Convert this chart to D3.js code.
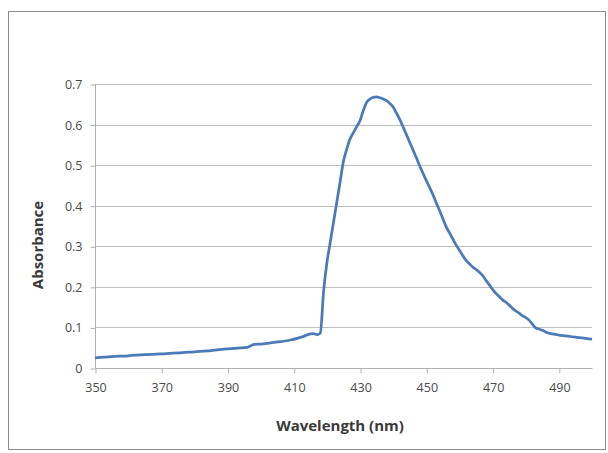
<!DOCTYPE html>
<html>
<head>
<meta charset="utf-8">
<script src="https://cdn.jsdelivr.net/npm/d3@7"></script>
<style>
  body { margin: 0; background: #fff; }
  .tick text { font-family: "Open Sans", sans-serif; font-size: 12.5px; fill: #4a4a4a; }
  .title { font-family: "Open Sans", sans-serif; font-weight: bold; font-size: 15px; fill: #3a3a3a; }
</style>
</head>
<body>
<script>
/* Absorbance spectrum */

const wavelength = [350, 355, 360, 365, 370, 375, 380, 385, 390, 393, 396, 398, 400, 403, 406, 409,
  411, 413, 415, 416, 417, 418, 419, 420, 421, 422, 423, 424, 425, 426, 427, 428, 429, 430,
  431, 432, 433, 434, 435, 436, 437, 438, 439, 440, 441, 442, 443, 444, 445, 446, 447, 448,
  449, 450, 451, 452, 453, 454, 455, 456, 457, 458, 459, 460, 461, 462, 463, 464, 465, 466,
  467, 468, 469, 470, 471, 472, 473, 474, 475, 476, 477, 478, 479, 480, 481, 482, 483, 484,
  485, 486, 487, 488, 489, 490, 492, 494, 496, 498, 500];

const absorbance = [0.025, 0.028, 0.030, 0.033, 0.035, 0.037, 0.040, 0.043, 0.047, 0.049, 0.051, 0.058, 0.059, 0.062, 0.065, 0.069,
  0.073, 0.078, 0.084, 0.085, 0.082, 0.086, 0.190, 0.260, 0.310, 0.360, 0.410, 0.460, 0.510, 0.540, 0.565, 0.580, 0.595, 0.610,
  0.635, 0.655, 0.663, 0.667, 0.668, 0.666, 0.663, 0.659, 0.652, 0.643, 0.628, 0.612, 0.594, 0.575, 0.556, 0.537, 0.518, 0.498,
  0.480, 0.462, 0.445, 0.427, 0.407, 0.388, 0.368, 0.348, 0.333, 0.318, 0.303, 0.290, 0.277, 0.265, 0.257, 0.249, 0.243, 0.236,
  0.228, 0.216, 0.205, 0.194, 0.184, 0.176, 0.168, 0.162, 0.155, 0.147, 0.141, 0.135, 0.129, 0.124, 0.118, 0.108, 0.099, 0.096,
  0.093, 0.089, 0.086, 0.084, 0.083, 0.081, 0.079, 0.077, 0.075, 0.073, 0.071];

const xTicks = [350, 370, 390, 410, 430, 450, 470, 490];
const yTicks = [0, 0.1, 0.2, 0.3, 0.4, 0.5, 0.6, 0.7];

const w = 608, h = 453;
const plotLeft = 95, plotRight = 592, plotTop = 84, plotBottom = 368;

const svg = d3.select("body").append("svg")
  .attr("width", w)
  .attr("height", h);

/* frame */
svg.append("rect")
  .attr("x", 8.5).attr("y", 11.5)
  .attr("width", 597).attr("height", 438)
  .attr("fill", "#fff")
  .attr("stroke", "#8c8c8c");

const x = d3.scaleLinear().domain([350, 500]).range([plotLeft, plotRight]);
const y = d3.scaleLinear().domain([0, 0.7]).range([plotBottom, plotTop]);

/* gridlines */
svg.append("g").selectAll("line")
  .data(yTicks.slice(1))
  .enter().append("line")
  .attr("x1", plotLeft).attr("x2", plotRight)
  .attr("y1", d => Math.round(y(d)) + 0.5)
  .attr("y2", d => Math.round(y(d)) + 0.5)
  .attr("stroke", "#c0c0c0");

/* axes */
const yAxis = svg.append("g")
  .attr("transform", "translate(" + (plotLeft + 0.5) + ",0.5)")
  .call(d3.axisLeft(y).tickValues(yTicks).tickFormat(d => d === 0 ? "0" : d3.format(".1f")(d)).tickSize(5).tickPadding(8));

const xAxis = svg.append("g")
  .attr("transform", "translate(0.5," + (plotBottom + 0.5) + ")")
  .call(d3.axisBottom(x).tickValues(xTicks).tickSize(5).tickPadding(10));

svg.selectAll(".domain").attr("stroke", "#b0b0b0");
svg.selectAll(".tick line").attr("stroke", "#b0b0b0");
yAxis.select(".domain").attr("d", "M0," + plotTop + "V" + plotBottom);
xAxis.select(".domain").attr("d", "M" + plotLeft + ",0H" + plotRight);

/* curve */
const line = d3.line()
  .x((d, i) => x(wavelength[i]))
  .y(d => y(d))
  .curve(d3.curveMonotoneX);

svg.append("path")
  .datum(absorbance)
  .attr("d", line)
  .attr("fill", "none")
  .attr("stroke", "#4a7ab8")
  .attr("stroke-width", 2.75)
  .attr("stroke-linejoin", "round");

/* titles */
svg.append("text")
  .attr("class", "title")
  .attr("x", 340).attr("y", 431)
  .attr("text-anchor", "middle")
  .text("Wavelength (nm)");

svg.append("text")
  .attr("class", "title")
  .attr("transform", "translate(43,245) rotate(-90)")
  .attr("text-anchor", "middle")
  .text("Absorbance");
</script>
</body>
</html>
